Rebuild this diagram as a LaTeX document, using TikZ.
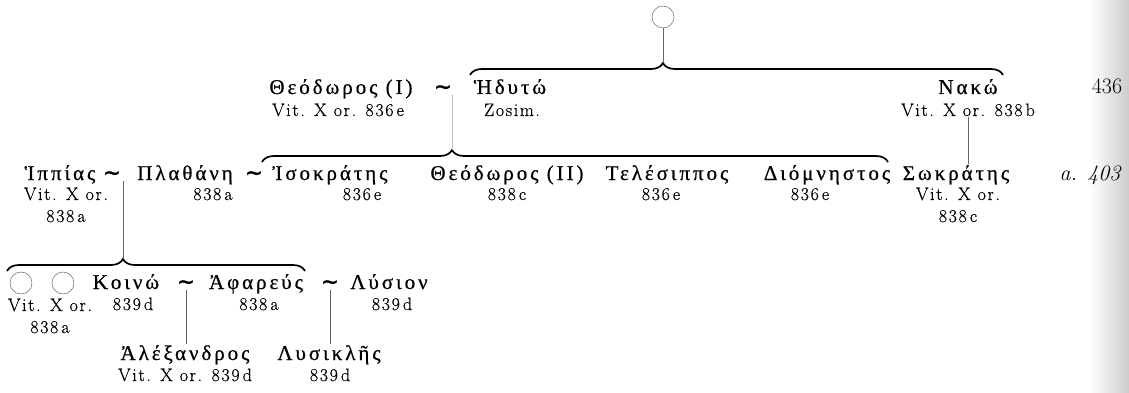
\documentclass[tikz,border=0pt]{standalone}
\usepackage{fontspec}
\newfontfamily\greekfont[LetterSpace=14,FakeBold=0.7]{Liberation Serif}
\newfontfamily\srcfont[LetterSpace=9,FakeBold=0.4]{Latin Modern Roman}
\newfontfamily\wedfont{DejaVu Sans}
\usetikzlibrary{positioning,calc,decorations.pathreplacing}

\begin{document}
\begin{tikzpicture}[x=1pt,y=1pt]
            \tikzset{
                person/.style={
                    inner sep=1pt,
                    anchor=base,
                    font=\greekfont\fontsize{21}{23}\selectfont
                }
            }
            \tikzset{
                src/.style={
                    inner sep=1pt,
                    anchor=base,
                    align=center,
                    font=\srcfont\fontsize{18}{22}\selectfont
                }
            }
            \tikzset{
                wed/.style={
                    inner sep=0pt,
                    font=\wedfont\bfseries\fontsize{22}{22}\selectfont
                }
            }
            \tikzset{
                unknown/.style={
                    circle,
                    draw=black!70,
                    minimum size=22pt,
                    inner sep=0pt
                }
            }
            \tikzset{
                family/.style={
                    decorate,
                    decoration={brace, amplitude=12pt, aspect=#1},
                    line width=1.7pt
                }
            }
            \tikzset{
                link/.style={
                    black!60,
                    line width=0.6pt
                }
            }

            \useasboundingbox (0,0) rectangle (1129,-393);
            \shade[left color=white, right color=black!20] (1090,0) rectangle (1129,-393);

            \node[unknown] (U) at (663,-17) {};
            \coordinate (B1) at (663,-63);
            \coordinate (B2) at (452,-150);
            \coordinate (B3) at (123,-259);

            \node[person] (T1) at (341,-94) {Θεόδωρος (I)};
            \node[wed] (W1) at (443,-90) {∼};
            \node[person] (T2) at (510,-94) {Ἡδυτώ};
            \node[person] (T3) at (968,-94) {Νακώ};
            \node[src, font=\fontsize{22}{22}\selectfont] (N1) at (1107,-94) {436};
            \node[src] (R1) at (338,-116) {Vit. X or. 836\,e};
            \node[src] (R2) at (512,-116) {Zosim.};
            \node[src] (R3) at (968,-116) {Vit. X or. 838\,b};

            \node[person] (H) at (60,-180) {Ἱππίας};
            \node[wed] (W2) at (112,-176) {∼};
            \node[person] (PL) at (185,-180) {Πλαθάνη};
            \node[wed] (W3) at (254,-176) {∼};
            \node[person] (IS) at (330,-180) {Ἰσοκράτης};
            \node[person] (TH) at (507,-180) {Θεόδωρος (II)};
            \node[person] (TE) at (667,-180) {Τελέσιππος};
            \node[person] (DI) at (827,-180) {Διόμνηστος};
            \node[person] (SO) at (956,-180) {Σωκράτης};
            \node[src, font=\itshape\fontsize{22}{22}\selectfont] (N2) at (1090,-180) {a. 403};
            \node[src] (RH) at (66,-222) {Vit. X or.\\838\,a};
            \node[src] (RPL) at (213,-200) {838\,a};
            \node[src] (RIS) at (362,-200) {836\,e};
            \node[src] (RTH) at (507,-200) {838\,c};
            \node[src] (RTE) at (661,-200) {836\,e};
            \node[src] (RDI) at (810,-200) {836\,e};
            \node[src] (RSO) at (958,-222) {Vit. X or.\\838\,c};

            \node[unknown] (C1) at (21,-283) {};
            \node[unknown] (C2) at (63,-283) {};
            \node[person] (KO) at (126,-289) {Κοινώ};
            \node[wed] (W4) at (186,-285) {∼};
            \node[person] (AF) at (256,-289) {Ἀφαρεύς};
            \node[wed] (W5) at (330,-285) {∼};
            \node[person] (LY) at (389,-289) {Λύσιον};
            \node[src] (RC) at (50,-333) {Vit. X or.\\838\,a};
            \node[src] (RKO) at (133,-310) {839\,d};
            \node[src] (RAF) at (259,-310) {838\,a};
            \node[src] (RLY) at (392,-310) {839\,d};

            \node[person] (AL) at (185,-360) {Ἀλέξανδρος};
            \node[src] (RAL) at (185,-381) {Vit. X or. 839\,d};
            \node[person] (LK) at (329,-360) {Λυσικλῆς};
            \node[src] (RLK) at (330,-381) {839\,d};

            \draw[family=0.362] (470,-75) -- (1003,-75);
            \draw[family=0.3035] (262,-162) -- (888,-162);
            \draw[family=0.389] (7,-271) -- (305,-271);

            \draw[link] (U) -- (B1);
            \draw[link, black!25] (W1.south -| B2) -- (B2);
            \draw[link] (R3.south) -- (R3.south |- SO.north);
            \draw[link] (W2.south -| B3) -- (B3);
            \draw[link] (W4.south) -- (W4.south |- AL.north);
            \draw[link] (W5.south) -- (W5.south |- LK.north);
        \end{tikzpicture}
\end{document}
